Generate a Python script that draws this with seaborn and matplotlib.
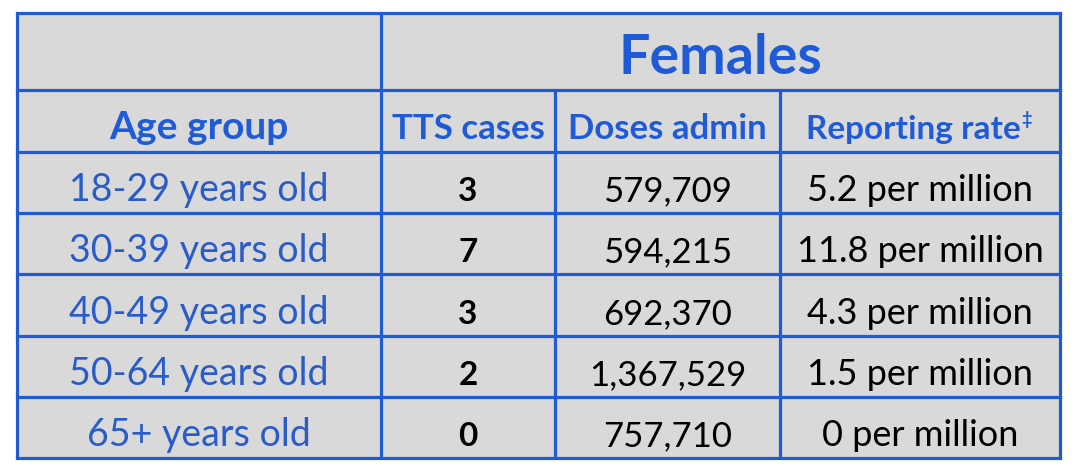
import matplotlib
matplotlib.use("Agg")
import matplotlib.pyplot as plt
from matplotlib.patches import Rectangle
import seaborn as sns
import pandas as pd

# ---- data ----
title = "Females"
col_headers = ["Age group", "TTS cases", "Doses admin", "Reporting rate"]
header_mark = "\u2021"
age_groups = ["18-29 years old", "30-39 years old", "40-49 years old",
              "50-64 years old", "65+ years old"]
tts_cases = [3, 7, 3, 2, 0]
doses_admin = [579709, 594215, 692370, 1367529, 757710]
reporting_rate = ["5.2", "11.8", "4.3", "1.5", "0"]

df = pd.DataFrame({"age": age_groups, "tts": tts_cases,
                   "doses": doses_admin, "rate": reporting_rate})

sns.set_theme(style="white")
plt.rcParams["font.family"] = ["Lato", "DejaVu Sans"]

W, H = 1077, 466
fig = plt.figure(figsize=(W / 100, H / 100), dpi=100)
ax = fig.add_axes([0, 0, 1, 1])
ax.set_xlim(0, W)
ax.set_ylim(H, 0)
ax.axis("off")

# layout (pixels)
xs = [17, 381, 555, 780, 1060]
ys = [13, 90, 152, 213, 274, 336, 397, 458]

BG = "#D9D9D9"
LINE = "#1F5BD2"
HEAD = "#1F5BD6"
BODY = "#2A5CC8"
lw = 2.3

ax.add_patch(Rectangle((xs[0], ys[0]), xs[-1] - xs[0], ys[-1] - ys[0],
                       facecolor=BG, edgecolor="none", zorder=0))

for y in ys:
    ax.plot([xs[0], xs[-1]], [y, y], color=LINE, lw=lw, zorder=2,
            solid_capstyle="projecting")
ax.plot([xs[0], xs[0]], [ys[0], ys[-1]], color=LINE, lw=lw, zorder=2)
ax.plot([xs[1], xs[1]], [ys[0], ys[-1]], color=LINE, lw=lw, zorder=2)
ax.plot([xs[-1], xs[-1]], [ys[0], ys[-1]], color=LINE, lw=lw, zorder=2)
for x in xs[2:4]:
    ax.plot([x, x], [ys[1], ys[-1]], color=LINE, lw=lw, zorder=2)


def cx(i):
    return (xs[i] + xs[i + 1]) / 2


# title
ax.text((xs[1] + xs[-1]) / 2, ys[1] - 16, title, ha="center", va="baseline",
        fontsize=40, fontweight="bold", color=HEAD)

# column headers
hsizes = [28, 25, 25, 24]
for i, h in enumerate(col_headers):
    if i == 3:
        t = ax.text(cx(i) - 7, ys[2] - 13, h, ha="center", va="baseline",
                    fontsize=hsizes[i], fontweight="bold", color=HEAD)
        fig.canvas.draw()
        bb = t.get_window_extent()
        x_end = ax.transData.inverted().transform((bb.x1, 0))[0]
        ax.text(x_end + 1, ys[2] - 27, header_mark, ha="left", va="baseline",
                fontsize=13, fontweight="bold", color=HEAD)
    else:
        ax.text(cx(i), ys[2] - 13, h, ha="center", va="baseline",
                fontsize=hsizes[i], fontweight="bold", color=HEAD)

# body
for r, row in df.iterrows():
    yb = ys[3 + r] - 12
    ax.text(cx(0), yb, row["age"], ha="center", va="baseline",
            fontsize=27, color=BODY)
    ax.text(cx(1), yb, f"{row['tts']}", ha="center", va="baseline",
            fontsize=24, fontweight="bold", color="black")
    ax.text(cx(2), yb, f"{row['doses']:,}", ha="center", va="baseline",
            fontsize=25, color="black")
    ax.text(cx(3), yb, f"{row['rate']} per million", ha="center",
            va="baseline", fontsize=26, color="black")

fig.savefig("out.png", dpi=100, facecolor="white")
